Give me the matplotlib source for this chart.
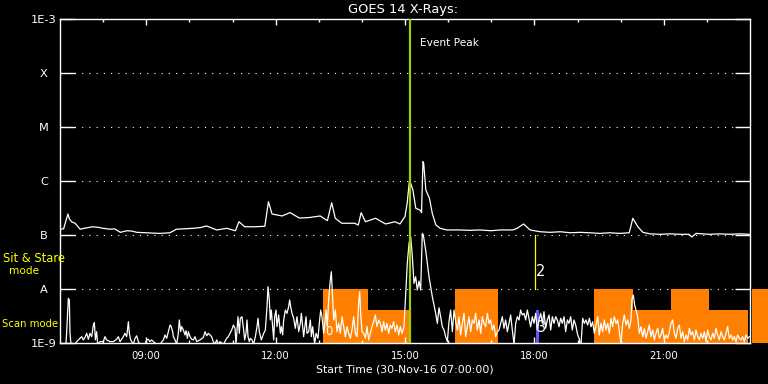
import matplotlib
matplotlib.use("Agg")
import matplotlib.pyplot as plt

# ---------------- data (time in minutes after 30-Nov-16 07:00) ----------------
long_t = [0, 5, 11, 13, 16, 21, 28, 36, 46, 54, 60, 70, 76, 84, 93, 100, 107, 120, 139, 153,
          162, 172, 185, 195, 204, 218, 232, 244, 249, 257, 271, 285, 290, 295, 309, 320, 333,
          346, 362, 372, 378, 383, 392, 410, 415, 419, 425, 439, 453, 466, 473, 480, 483, 486,
          488, 491, 495, 501, 503, 505, 506, 509, 514, 518, 523, 529, 538, 556, 570, 584, 600,
          612, 630, 636, 645, 654, 668, 682, 696, 710, 724, 737, 751, 765, 779, 792, 797, 804,
          811, 821, 835, 849, 862, 875, 879, 885, 904, 918, 932, 946, 959]
# long channel (1-8 A) flux, units of 1e-7 W/m^2
long_v = [1.28, 1.30, 2.45, 2.0, 1.76, 1.65, 1.28, 1.35, 1.42, 1.38, 1.33, 1.28, 1.30, 1.12,
          1.20, 1.18, 1.12, 1.10, 1.07, 1.10, 1.28, 1.30, 1.33, 1.37, 1.47, 1.24, 1.33, 1.20,
          1.76, 1.42, 1.42, 1.45, 4.14, 2.45, 2.25, 2.60, 2.06, 2.10, 2.25, 1.84, 3.96, 2.04,
          1.65, 1.65, 1.53, 2.59, 1.76, 2.04, 1.60, 1.76, 1.60, 2.2, 3.86, 9.7, 9.0, 6.8,
          3.12, 2.9, 2.6, 22.8, 21.3, 6.8, 4.8, 2.5, 1.53, 1.33, 1.24, 1.24, 1.22, 1.24, 1.20,
          1.24, 1.24, 1.33, 1.60, 1.24, 1.15, 1.12, 1.15, 1.10, 1.12, 1.10, 1.07, 1.10, 1.07,
          1.10, 2.04, 1.42, 1.12, 1.05, 1.03, 1.05, 1.03, 1.03, 0.92, 1.07, 1.03, 1.05, 1.03,
          1.05, 1.03]

short_t = [0, 4.6, 8.3, 9.3, 11.6, 13, 13.9, 15.3, 20.9, 23.2, 27.8, 30.1, 32.5, 34.8, 37.1,
           39.4, 41.7, 44.1, 46.4, 47.8, 49.2, 51, 52.4, 55.7, 60.3, 62.6, 64.9, 69.6, 74.2,
           78.8, 81.2, 83.5, 88.1, 90.4, 92.8, 95.1, 96.5, 98.3, 102, 104.4, 106.7, 109, 111.3,
           118.3, 120.6, 122.9, 125.2, 127.5, 129.9, 134.5, 139.1, 143.8, 146.1, 148.4, 150.7,
           153.1, 154.4, 156.8, 157.7, 160, 162.3, 164.6, 166, 167.9, 169.3, 171.6, 173.9,
           175.3, 177.2, 178.6, 180.9, 183.2, 185.5, 187.8, 190.2, 194.8, 199.4, 201.8, 204.1,
           206.4, 208.7, 211, 213.3, 215.7, 218, 220.3, 222.6, 227.3, 231.9, 234.2, 236.5,
           238.9, 241.2, 243.5, 244.9, 247.6, 249.5, 250.9, 253.2, 255.5, 256.9, 258.8, 260.2,
           261.6, 263.4, 264.8, 267.1, 269.4, 271.8, 274.1, 275.5, 277.3, 280.1, 283.4, 285.7,
           288, 289.4, 291.2, 292.6, 294, 295.9, 297.3, 298.7, 300.5, 301.9, 304.2, 306.6, 308,
           309.8, 311.2, 313.5, 315.8, 318.1, 319.5, 320.9, 322.8, 325.1, 327.4, 329.7, 332.1,
           334.4, 335.8, 337.6, 339, 340.4, 342.3, 343.7, 346, 348.3, 349.7, 351.5, 354.3,
           356.2, 358.9, 360.8, 362.7, 364.5, 366.8, 368.2, 370.1, 371.9, 373.8, 376.1, 377.5,
           379.4, 380.8, 383.1, 385.4, 387.7, 390, 392.4, 394.7, 397, 399.3, 401.6, 404, 406.3,
           408.6, 410.9, 413.2, 415.5, 417, 418.3, 420.2, 422.5, 424.8, 427.1, 429.5, 431.8,
           434.1, 436.4, 438.7, 441, 443.4, 445.7, 448, 450.3, 452.6, 454.9, 457.3, 459.6,
           461.9, 464.2, 466.5, 468.9, 471.2, 473.5, 475.8, 478.6, 480.9, 483.2, 485.6, 487.9,
           490.2, 492.5, 494.8, 497.1, 499.5, 501.8, 504.1, 505.5, 508.7, 513.4, 518, 522.7,
           525, 527.3, 529.6, 531.9, 534.3, 536.6, 538.9, 541.2, 543.5, 545.9, 548.2, 550.5,
           552.8, 555.1, 557.4, 559.8, 562.1, 564.4, 566.7, 569, 571.4, 573.7, 576, 578.3,
           580.6, 583, 585.3, 587.6, 589.9, 592.2, 594.6, 596.9, 599.2, 601.5, 603.8, 606.1,
           608.5, 610.8, 613.1, 615.4, 617.7, 620, 622.4, 624.7, 627, 629.3, 631.7, 634, 636.3,
           638.6, 640.9, 643.2, 645.6, 647.9, 650.2, 652.5, 654.8, 657.2, 659.5, 661.8, 664.1,
           666.4, 668.8, 671.1, 673.4, 675.7, 678, 680.4, 682.7, 685, 687.3, 689.6, 691.9,
           694.3, 696.6, 698.9, 701.2, 703.5, 705.9, 708.2, 710.5, 712.8, 715.1, 717.5, 720.2,
           722.5, 723.5, 724.9, 727.2, 729.5, 731.8, 734.1, 736.5, 738.8, 741.1, 743.4, 745.7,
           748.1, 750.4, 752.7, 755, 757.3, 759.6, 762, 764.3, 766.6, 768.9, 771.2, 773.6,
           775.9, 778.2, 780.5, 782.8, 785.1, 787.5, 789.8, 792.1, 794.4, 795.8, 797.7, 799.5,
           801.4, 803.7, 806, 808.3, 810.7, 813, 815.3, 817.6, 819.9, 822.3, 824.6, 826.9,
           829.2, 831.5, 833.9, 836.2, 838.5, 840.8, 843.1, 845.4, 847.8, 850.1, 852.4, 854.7,
           857, 859.4, 861.7, 864, 866.3, 868.6, 871, 873.3, 875.6, 877.9, 880.2, 882.6, 884.9,
           887.2, 889.5, 891.8, 894.2, 896.5, 898.8, 901.1, 903.4, 905.7, 908.1, 910.4, 912.7,
           915, 917.3, 919.7, 922, 924.3, 926.6, 928.9, 931.2, 933.6, 935.9, 938.2, 940.5,
           942.8, 945.2, 947.5, 949.8, 952.1, 954.4, 956.8, 959.1]
# short channel (0.5-4 A) flux, units of 1e-9 W/m^2
short_v = [0.95, 0.95, 0.95, 1.62, 6.72, 6.26, 1.51, 0.95, 0.95, 1.06, 1.22, 1.31, 1.14, 1.27,
           1.51, 1.17, 1.51, 1.31, 2.15, 2.38, 1.14, 1.62, 0.95, 1.06, 1.06, 1.31, 1.14, 1.06,
           1.06, 1.17, 1.31, 1.06, 1.31, 1.51, 1.31, 2.48, 1.51, 1.14, 0.95, 1.22, 1.36, 1.06,
           0.95, 0.95, 1.14, 1.17, 1.06, 1.14, 1.06, 0.95, 0.95, 1.14, 1.41, 1.22, 1.62, 2.15,
           2.07, 1.62, 1.31, 1.14, 0.95, 1.51, 2.67, 1.62, 2.01, 1.74, 1.41, 1.69, 1.22, 1.62,
           1.31, 1.17, 1.14, 1.31, 1.06, 1.14, 1.27, 1.62, 1.36, 1.51, 1.41, 1.31, 1.06, 0.95,
           1.14, 0.95, 1.06, 0.95, 1.22, 1.31, 1.51, 1.74, 2.15, 1.87, 0.95, 3.07, 1.51, 2.87,
           3.07, 1.74, 1.14, 1.51, 2.67, 1.31, 1.06, 1.22, 1.14, 0.95, 1.31, 2.01, 2.87, 1.62,
           1.14, 1.51, 1.74, 4.71, 11.0, 6.26, 2.67, 4.08, 2.01, 1.14, 3.07, 4.08, 2.01, 3.30,
           1.51, 2.01, 1.41, 2.67, 4.08, 3.54, 4.71, 6.26, 4.71, 3.54, 2.87, 1.87, 3.07, 1.62,
           2.31, 3.54, 2.01, 1.31, 1.87, 3.07, 1.51, 1.62, 2.67, 1.31, 2.01, 0.95, 1.51, 1.22,
           2.31, 4.08, 3.07, 1.51, 2.01, 4.08, 2.01, 6.26, 14.7, 20.9, 6.26, 2.67, 4.08, 1.62,
           2.31, 1.51, 3.07, 2.01, 1.31, 2.01, 1.51, 1.22, 1.74, 3.07, 1.51, 1.31, 5.43, 8.9,
           3.54, 1.62, 1.51, 1.22, 2.01, 1.14, 1.51, 2.01, 2.48, 3.30, 2.01, 2.67, 2.31, 1.62,
           2.48, 1.74, 2.31, 1.51, 2.15, 1.87, 2.48, 1.62, 2.15, 1.41, 2.01, 1.51, 2.0, 8.0,
           30, 70, 93, 40, 12.7, 16.9, 9.6, 14, 9.6, 107, 100, 52.7, 16.9, 7.2, 3.54, 2.31, 4.5,
           3.07, 2.0, 1.74, 1.3, 1.06, 2.5, 4.08, 1.62, 4.08, 2.5, 1.74, 3.07, 1.41, 2.31, 3.54,
           1.31, 2.0, 3.07, 1.62, 2.67, 2.31, 3.54, 1.74, 2.67, 1.51, 3.07, 2.31, 2.0, 3.54,
           2.31, 2.67, 1.74, 2.15, 1.31, 1.62, 1.74, 2.31, 3.07, 1.87, 2.67, 1.62, 2.31, 3.3,
           1.74, 0.95, 2.31, 3.07, 2.67, 4.08, 3.3, 3.54, 2.67, 4.08, 2.87, 2.0, 3.07, 2.31,
           3.54, 1.74, 2.67, 3.54, 2.31, 3.8, 1.87, 2.67, 3.3, 1.74, 3.07, 2.31, 3.07, 2.67,
           2.0, 2.87, 2.31, 3.07, 1.62, 2.67, 2.31, 3.07, 1.74, 2.67, 2.15, 1.41, 1.2, 0.95,
           0.95, 2.87, 2.31, 2.67, 2.15, 2.87, 2.0, 2.48, 1.51, 2.15, 3.07, 1.41, 2.31, 1.62,
           2.67, 1.74, 2.31, 1.51, 2.87, 2.0, 3.07, 2.31, 2.67, 1.62, 0.95, 2.31, 3.3, 2.15,
           2.67, 1.87, 2.67, 6.5, 7.7, 5.0, 4.08, 3.07, 1.51, 2.0, 1.31, 1.87, 1.22, 1.62, 2.15,
           1.31, 1.74, 1.14, 1.51, 1.87, 1.22, 1.41, 1.87, 1.14, 1.41, 1.22, 1.62, 2.31, 2.67,
           1.51, 1.22, 1.87, 2.15, 1.22, 1.62, 1.06, 1.41, 1.14, 1.87, 1.41, 1.62, 1.14, 1.74,
           1.31, 1.14, 1.51, 1.22, 1.62, 1.06, 1.74, 1.31, 1.14, 1.51, 1.22, 1.87, 1.41, 1.14,
           1.62, 1.31, 1.14, 1.51, 2.01, 1.22, 1.41, 1.14, 1.31, 1.06, 1.41, 1.22, 1.14, 1.31,
           1.06, 1.41, 1.22, 1.31]

# IRIS observing modes (start, end in minutes; level: 'sit' = Sit & Stare, 'scan' = Scan)
mode_start = [366, 428, 550, 743, 797, 850, 903, 963]
mode_end   = [428, 489, 609, 797, 850, 903, 957, 985]
mode_kind  = ['sit', 'scan', 'sit', 'sit', 'scan', 'sit', 'scan', 'sit']
mode_level = {'sit': 1e-8, 'scan': 4.1e-9}

event_peak_t = 487
event2_t = 661
event3_t = (662, 667)
event1_label_t = 370

xtick_pos = [120, 300, 480, 660, 840]
xtick_lab = ['09:00', '12:00', '15:00', '18:00', '21:00']
ytick_pos = [1e-9, 1e-8, 1e-7, 1e-6, 1e-5, 1e-4, 1e-3]
ytick_lab = ['1E-9', 'A', 'B', 'C', 'M', 'X', '1E-3']

# ---------------- figure ----------------
W, H = 768, 384
fig = plt.figure(figsize=(W / 100, H / 100), dpi=100, facecolor='black')
ax = fig.add_axes([60 / W, 1 - 343 / H, 690 / W, 324 / H], facecolor='black')
ax.set_xlim(0, 960)
ax.set_yscale('log')
ax.set_ylim(1e-9, 1e-3)

for s in ax.spines.values():
    s.set_color('white')
    s.set_linewidth(1.0)

# dotted class lines
for y in [1e-8, 1e-7, 1e-6, 1e-5, 1e-4]:
    ax.axhline(y, color='white', lw=0.8, linestyle=(0, (1, 5.5)), zorder=0.5)

# mode blocks
for s0, s1, k in zip(mode_start, mode_end, mode_kind):
    lvl = mode_level[k]
    bars = ax.bar(s0, lvl - 1e-9, bottom=1e-9, width=s1 - s0, align='edge',
                  color='#ff8000', linewidth=0, zorder=1)
    if s1 > 960:
        for b in bars:
            b.set_clip_on(False)

# data
ax.plot(short_t, [v * 1e-9 for v in short_v], color='white', lw=0.9, zorder=3)
ax.plot(long_t, [v * 1e-7 for v in long_v], color='white', lw=0.9, zorder=3)

# events
ax.axvline(event_peak_t, color='#9ad200', lw=1.6, zorder=4)
ax.text(event_peak_t + 14, 10 ** (-3 - 24 / 54), 'Event Peak', color='white', fontsize=7.6,
        va='center', ha='left')
ax.plot([event2_t, event2_t], [1e-8, 1e-7], color='yellow', lw=0.9, zorder=4)
ax.text(event2_t + 1.0, 10 ** (-9 + 71.5 / 54), '2', color='white', fontsize=10.5,
        va='center', ha='left', zorder=5)
ax.bar(event3_t[0], mode_level['scan'] - 1e-9, bottom=1e-9, width=event3_t[1] - event3_t[0],
       align='edge', color='#5a5aff', linewidth=0, zorder=2)
ax.text(event3_t[0] + 1, 10 ** (-9 + 15 / 54), '3', color='white', fontsize=10.5,
        va='center', ha='left', zorder=5)
ax.text(event1_label_t - 1, 10 ** (-9 + 12 / 54), '0', color='white', fontsize=8.5,
        va='center', ha='left', zorder=5)

# ticks
ax.set_yticks(ytick_pos)
ax.set_yticklabels(ytick_lab)
ax.yaxis.set_minor_locator(matplotlib.ticker.NullLocator())
ax.tick_params(axis='y', which='major', direction='in', length=10.8, width=1.0,
               color='white', labelcolor='white', labelsize=8.2, pad=11.5,
               left=True, right=True)
for lab in ax.get_yticklabels():
    lab.set_ha('center')

ax.set_xticks(xtick_pos)
ax.set_xticklabels(xtick_lab)
ax.set_xticks(range(60, 960, 60), minor=True)
ax.tick_params(axis='x', which='major', direction='in', length=4.5, width=1.0,
               color='white', labelcolor='white', labelsize=7.3, pad=6,
               top=True, bottom=True)
ax.tick_params(axis='x', which='minor', direction='in', length=2.3, width=1.0,
               color='white', top=True, bottom=True)

# texts
fig.text(403 / W, 1 - 9.5 / H, 'GOES 14 X-Rays:', color='white', fontsize=9.4,
         ha='center', va='center')
fig.text(405 / W, 1 - 369 / H, 'Start Time (30-Nov-16 07:00:00)', color='white',
         fontsize=7.8, ha='center', va='center')
fig.text(34 / W, 1 - 259 / H, 'Sit & Stare', color='yellow', fontsize=8.3,
         ha='center', va='center')
fig.text(24 / W, 1 - 271 / H, 'mode', color='yellow', fontsize=7.6,
         ha='center', va='center')
fig.text(2 / W, 1 - 324 / H, 'Scan mode', color='yellow', fontsize=7.3,
         ha='left', va='center')

fig.savefig('out.png', dpi=100, facecolor='black')
